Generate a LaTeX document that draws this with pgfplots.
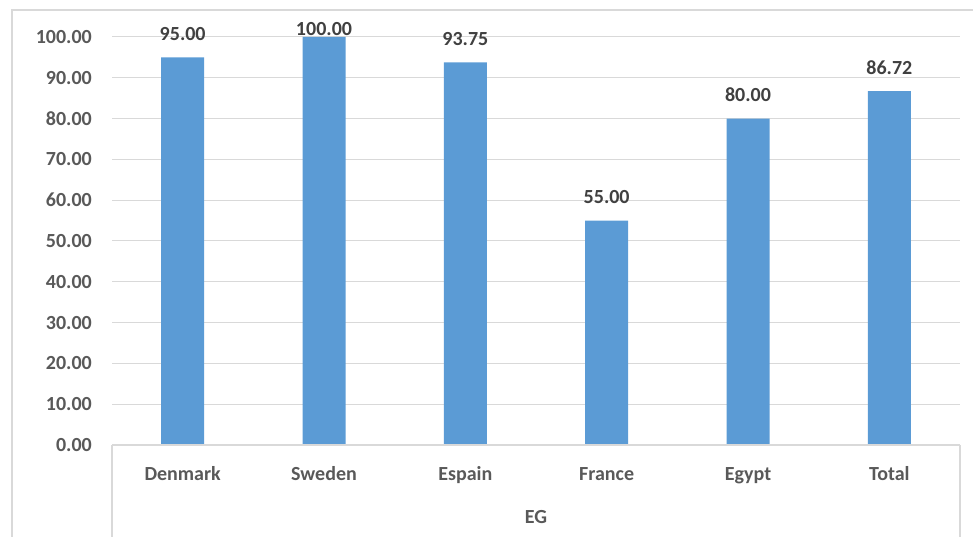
\documentclass[border=0pt]{standalone}
\usepackage{pgfplots}
\pgfplotsset{compat=1.18}
\usepackage{pgfplotstable}
\usepackage{fontspec}
\setmainfont{Carlito}

\definecolor{barblue}{HTML}{5B9BD5}
\definecolor{ticktext}{HTML}{595959}
\definecolor{labeltext}{HTML}{404040}
\definecolor{gridgray}{HTML}{D9D9D9}

% x, value, vertical offset of the value label (pt)
\pgfplotstableread{
x  y      off
0  95.00  17
1  100.00 1.5
2  93.75  17
3  55.00  17
4  80.00  17
5  86.72  17
}\scores

\begin{document}
\begin{tikzpicture}[x=1pt,y=1pt]
\path[use as bounding box] (0,0) rectangle (973,537);
% chart frame
\draw[gridgray, line width=1.5pt] (12,0) -- (12,527) -- (973,527);
\begin{axis}[
  at={(112pt,92pt)}, anchor=south west,
  scale only axis, width=848pt, height=408pt,
  xmin=-0.5, xmax=5.5, ymin=0, ymax=100,
  ytick={0,10,...,100},
  xtick={0,...,5},
  xticklabels={Denmark,Sweden,Espain,France,Egypt,Total},
  axis line style={draw=none},
  major tick length=0pt,
  ymajorgrids, grid style={gridgray, line width=1pt},
  /pgf/number format/assume math mode=true,
  yticklabel={\pgfmathprintnumber[fixed,fixed zerofill,precision=2]{\tick}},
  yticklabel style={font=\fontsize{20}{24}\selectfont\bfseries, text=ticktext, inner sep=0pt, anchor=east, xshift=-20pt},
  xticklabel style={font=\fontsize{20}{24}\selectfont\bfseries, text=ticktext, inner sep=0pt, anchor=base, yshift=-35.5pt},
  clip=false,
]
\addplot[ybar, bar width=43pt, bar shift=0pt, fill=barblue, draw=none,
  point meta=y,
  visualization depends on={\thisrow{off} \as \labeloff},
  nodes near coords={\pgfmathprintnumber[fixed,fixed zerofill,precision=2,assume math mode=true]{\pgfplotspointmeta}},
  every node near coord/.append style={font=\fontsize{20}{24}\selectfont\bfseries, text=labeltext, inner sep=0pt, anchor=base, yshift=\labeloff},
] table[x=x, y=y] {\scores};
% category axis with the group box
\draw[gridgray, line width=1.2pt] (axis cs:-0.5,0) -- (axis cs:5.5,0);
\end{axis}
\draw[gridgray, line width=1.2pt] (112,92) -- (112,0);
\draw[gridgray, line width=1.2pt] (960,92) -- (960,0);
\node[font=\fontsize{20}{24}\selectfont\bfseries, text=ticktext, inner sep=0pt, anchor=base] at (536,13.5) {EG};
\end{tikzpicture}
\end{document}
